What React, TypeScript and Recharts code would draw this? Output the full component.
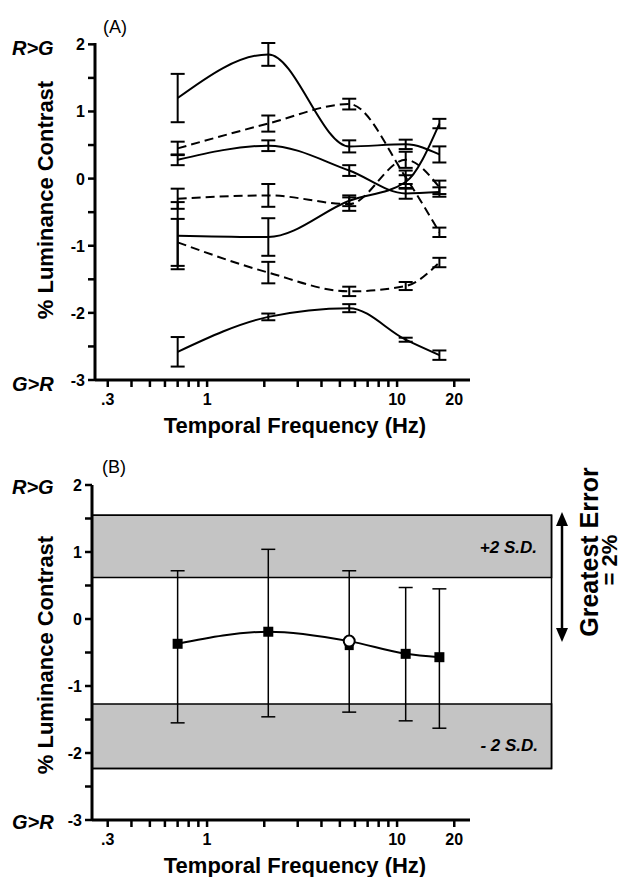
import { ComposedChart, Line, XAxis, YAxis, ErrorBar, ReferenceArea } from "recharts";

// ---- data ----
const freqs = [0.7, 2.1, 5.6, 11.1, 16.7];

const xTicks = [0.3, 0.4, 0.5, 0.6, 0.7, 0.8, 0.9, 1, 2, 3, 4, 5, 6, 7, 8, 9, 10, 20];
const xMajor = [0.3, 1, 10, 20];
const yTicks = [-3, -2.5, -2, -1.5, -1, -0.5, 0, 0.5, 1, 1.5, 2];

// panel A: seven observers / conditions
const a1 = [1.2, 1.85, 0.48, 0.51, 0.36];
const a1Err = [0.36, 0.17, 0.09, 0.07, 0.12];
const a2 = [0.45, 0.82, 1.11, 0.02, -0.8];
const a2Err = [0.1, 0.12, 0.08, 0.1, 0.07];
const a3 = [0.28, 0.49, 0.12, -0.22, -0.2];
const a3Err = [0.08, 0.08, 0.08, 0.08, 0.07];
const a4 = [-0.3, -0.25, -0.38, 0.28, -0.13];
const a4Err = [0.15, 0.17, 0.1, 0.12, 0.1];
const a5 = [-0.85, -0.87, -0.33, -0.05, 0.82];
const a5Err = [0.5, 0.28, 0.08, 0.1, 0.07];
const a6 = [-0.95, -1.4, -1.68, -1.6, -1.25];
const a6Err = [0.35, 0.16, 0.07, 0.06, 0.07];
const a7 = [-2.58, -2.06, -1.93, -2.4, -2.63];
const a7Err = [0.22, 0.05, 0.06, 0.03, 0.07];

// panel B: mean with range
const bMean = [-0.37, -0.19, -0.33, -0.52, -0.57];
const bTop = [0.72, 1.04, 0.72, 0.47, 0.45];
const bBottom = [-1.55, -1.46, -1.39, -1.52, -1.63];

// +/- 2 S.D. bands
const upperBand = [0.62, 1.55];
const lowerBand = [-2.23, -1.27];
const bandRight = 65;

const seriesA = [
  { key: "a1", values: a1, errs: a1Err, dashed: false },
  { key: "a2", values: a2, errs: a2Err, dashed: true },
  { key: "a3", values: a3, errs: a3Err, dashed: false },
  { key: "a4", values: a4, errs: a4Err, dashed: true },
  { key: "a5", values: a5, errs: a5Err, dashed: false },
  { key: "a6", values: a6, errs: a6Err, dashed: true },
  { key: "a7", values: a7, errs: a7Err, dashed: false },
];

const rowsA = freqs.map((f, i) => {
  const r: any = { f };
  seriesA.forEach((s) => {
    r[s.key] = s.values[i];
    r[s.key + "e"] = s.errs[i];
  });
  return r;
});

const rowsB = freqs.map((f, i) => ({
  f,
  v: bMean[i],
  e: [bMean[i] - bBottom[i], bTop[i] - bMean[i]],
}));

const FONT = "'Liberation Sans', Arial, sans-serif";
const X_MAX = 24.2;
const TICK = 7;

/* ---- tick labels (tick marks come from the axis itself) ---- */
function XTick({ x, y, payload }: any) {
  const v = payload.value;
  const major = xMajor.some((m) => Math.abs(m - v) < 1e-9);
  if (!major) return <g />;
  const label = v < 1 ? "." + String(v).split(".")[1] : String(v);
  return (
    <text x={x} y={y + 16} textAnchor="middle" fontFamily={FONT} fontWeight="bold" fontSize={16} fill="#000">
      {label}
    </text>
  );
}

function YTick({ x, y, payload }: any) {
  const v = payload.value;
  if (!Number.isInteger(v)) return <g />;
  return (
    <text x={x} y={y + 6} textAnchor="end" fontFamily={FONT} fontWeight="bold" fontSize={16} fill="#000">
      {v}
    </text>
  );
}

function BDot({ cx, cy, index }: any) {
  if (index === 2) {
    return (
      <g>
        <rect x={cx - 4.5} y={cy + 1} width={9} height={8} fill="#000" />
        <circle cx={cx} cy={cy} r={5.5} fill="#fff" stroke="#000" strokeWidth={2} />
      </g>
    );
  }
  return <rect x={cx - 5} y={cy - 5} width={10} height={10} fill="#000" />;
}

const X_H = 30;
const Y_W = 40;

function xAxis(domainLeft: number) {
  return (
    <XAxis
      dataKey="f"
      type="number"
      scale="log"
      domain={[domainLeft, X_MAX]}
      allowDataOverflow
      ticks={xTicks}
      interval={0}
      tick={<XTick />}
      tickSize={TICK}
      tickMargin={2}
      height={X_H}
      stroke="#000"
      strokeWidth={3}
      tickLine={{ stroke: "#000", strokeWidth: 2.5 }}
      axisLine={{ stroke: "#000", strokeWidth: 3 }}
    />
  );
}

function yAxis() {
  return (
    <YAxis
      type="number"
      domain={[-3, 2]}
      ticks={yTicks}
      interval={0}
      tick={<YTick />}
      tickSize={TICK}
      tickMargin={3}
      width={Y_W}
      stroke="#000"
      strokeWidth={3}
      tickLine={{ stroke: "#000", strokeWidth: 2.5 }}
      axisLine={{ stroke: "#000", strokeWidth: 3 }}
    />
  );
}

function Overlay() {
  const t = { fontFamily: FONT, fill: "#000" } as const;
  return (
    <svg width={623} height={877} style={{ position: "absolute", left: 0, top: 0, pointerEvents: "none" }}>
      {/* panel A */}
      <text x={103} y={33} fontSize={18} {...t}>(A)</text>
      <text x={12} y={55} fontSize={20} fontWeight="bold" fontStyle="italic" {...t}>R&gt;G</text>
      <text x={12} y={391} fontSize={20} fontWeight="bold" fontStyle="italic" {...t}>G&gt;R</text>
      <text x={53} y={200} transform="rotate(-90 53 200)" textAnchor="middle" fontSize={22} fontWeight="bold" {...t}>
        % Luminance Contrast
      </text>
      <text x={295} y={433} textAnchor="middle" fontSize={22} fontWeight="bold" {...t}>Temporal Frequency (Hz)</text>

      {/* panel B */}
      <text x={102} y={473} fontSize={18} {...t}>(B)</text>
      <text x={12} y={494} fontSize={20} fontWeight="bold" fontStyle="italic" {...t}>R&gt;G</text>
      <text x={12} y={829} fontSize={20} fontWeight="bold" fontStyle="italic" {...t}>G&gt;R</text>
      <text x={53} y={655} transform="rotate(-90 53 655)" textAnchor="middle" fontSize={22} fontWeight="bold" {...t}>
        % Luminance Contrast
      </text>
      <text x={295} y={873} textAnchor="middle" fontSize={22} fontWeight="bold" {...t}>Temporal Frequency (Hz)</text>

      <text x={537} y={553} textAnchor="end" fontSize={17} fontWeight="bold" fontStyle="italic" {...t}>+2 S.D.</text>
      <text x={538} y={751} textAnchor="end" fontSize={17} fontWeight="bold" fontStyle="italic" {...t}>- 2 S.D.</text>

      {/* greatest error arrow */}
      <line x1={562} x2={562} y1={522} y2={632} stroke="#000" strokeWidth={2.5} />
      <polygon points="562,512 556,526 568,526" fill="#000" />
      <polygon points="562,642 556,628 568,628" fill="#000" />
      <text x={598} y={552} transform="rotate(-90 598 552)" textAnchor="middle" fontSize={25} fontWeight="bold" {...t}>
        Greatest Error
      </text>
      <text x={617} y={560} transform="rotate(-90 617 560)" textAnchor="middle" fontSize={22} fontWeight="bold" {...t}>
        = 2%
      </text>
    </svg>
  );
}

export default function App() {
  return (
    <div style={{ position: "absolute", left: 0, top: 0, width: 623, height: 877, background: "#fff" }}>
      <div style={{ position: "absolute", left: 0, top: 0 }}>
        <ComposedChart
          width={623}
          height={440}
          data={rowsA}
          margin={{ top: 43, left: 95 - Y_W, right: 153, bottom: 60 - X_H }}
        >
          {xAxis(0.257)}
          {yAxis()}
          {seriesA.map((s) => (
            <Line
              key={s.key}
              dataKey={s.key}
              type="monotone"
              stroke="#000"
              strokeWidth={2}
              strokeDasharray={s.dashed ? "9 5" : undefined}
              dot={false}
              activeDot={false}
              isAnimationActive={false}
            >
              <ErrorBar dataKey={s.key + "e"} direction="y" width={7} stroke="#000" strokeWidth={2} />
            </Line>
          ))}
        </ComposedChart>
      </div>
      <div style={{ position: "absolute", left: 0, top: 440 }}>
        <ComposedChart
          width={623}
          height={437}
          data={rowsB}
          margin={{ top: 45, left: 92 - Y_W, right: 153, bottom: 57 - X_H }}
        >
          {xAxis(0.248)}
          {yAxis()}
          <ReferenceArea
            x1={0.248}
            x2={bandRight}
            y1={upperBand[0]}
            y2={upperBand[1]}
            ifOverflow="visible"
            fill="#c4c4c4"
            fillOpacity={1}
            stroke="#000"
            strokeWidth={1.5}
          />
          <ReferenceArea
            x1={0.248}
            x2={bandRight}
            y1={lowerBand[0]}
            y2={lowerBand[1]}
            ifOverflow="visible"
            fill="#c4c4c4"
            fillOpacity={1}
            stroke="#000"
            strokeWidth={1.5}
          />
          <ReferenceArea
            x1={0.248}
            x2={bandRight}
            y1={lowerBand[0]}
            y2={upperBand[1]}
            ifOverflow="visible"
            fill="none"
            stroke="#000"
            strokeWidth={1.5}
          />
          <Line
            dataKey="v"
            type="monotone"
            stroke="#000"
            strokeWidth={2}
            dot={<BDot />}
            activeDot={false}
            isAnimationActive={false}
          >
            <ErrorBar dataKey="e" direction="y" width={7} stroke="#000" strokeWidth={1.5} />
          </Line>
        </ComposedChart>
      </div>
      <Overlay />
    </div>
  );
}
